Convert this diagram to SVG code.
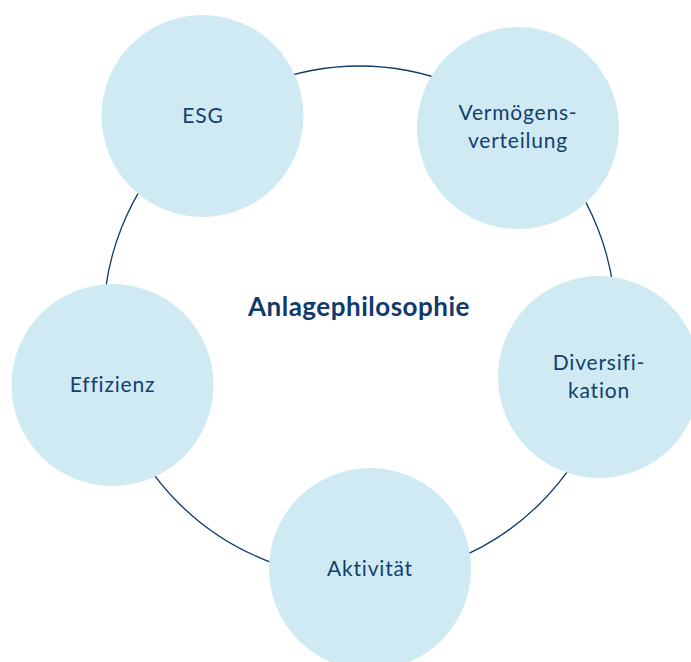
<svg xmlns="http://www.w3.org/2000/svg" width="691" height="662" viewBox="0 0 691 662">
<style>
.ring{fill:none;stroke:#0f3a6b;stroke-width:1.3}
.blob{fill:#cfeaf3}
.lbl{font-family:Lato,"Noto Sans",sans-serif;font-size:21px;fill:#123f6e;text-anchor:middle;letter-spacing:0.8px}
.title{font-family:Lato,"Noto Sans",sans-serif;font-size:26px;font-weight:bold;fill:#0f3a6b;text-anchor:middle;letter-spacing:0.5px}
</style>
<rect width="691" height="662" fill="#ffffff"/>
<g id="connectors">
<circle class="ring" cx="359.5" cy="322" r="256"/>
</g>
<g id="center">
<text class="title" x="359" y="316">Anlagephilosophie</text>
</g>
<g id="esg">
<circle class="blob" cx="202.5" cy="116" r="101"/>
<text class="lbl" x="203" y="123">ESG</text>
</g>
<g id="vermoegensverteilung">
<circle class="blob" cx="518" cy="128" r="101"/>
<text class="lbl" x="518" y="120">Vermögens-</text>
<text class="lbl" x="518" y="148">verteilung</text>
</g>
<g id="diversifikation">
<circle class="blob" cx="599" cy="377" r="101"/>
<text class="lbl" x="599" y="370">Diversifi-</text>
<text class="lbl" x="599" y="398">kation</text>
</g>
<g id="aktivitaet">
<circle class="blob" cx="370" cy="569" r="101"/>
<text class="lbl" x="370" y="576">Aktivität</text>
</g>
<g id="effizienz">
<circle class="blob" cx="112.5" cy="385" r="101"/>
<text class="lbl" x="112.5" y="392">Effizienz</text>
</g>
</svg>
